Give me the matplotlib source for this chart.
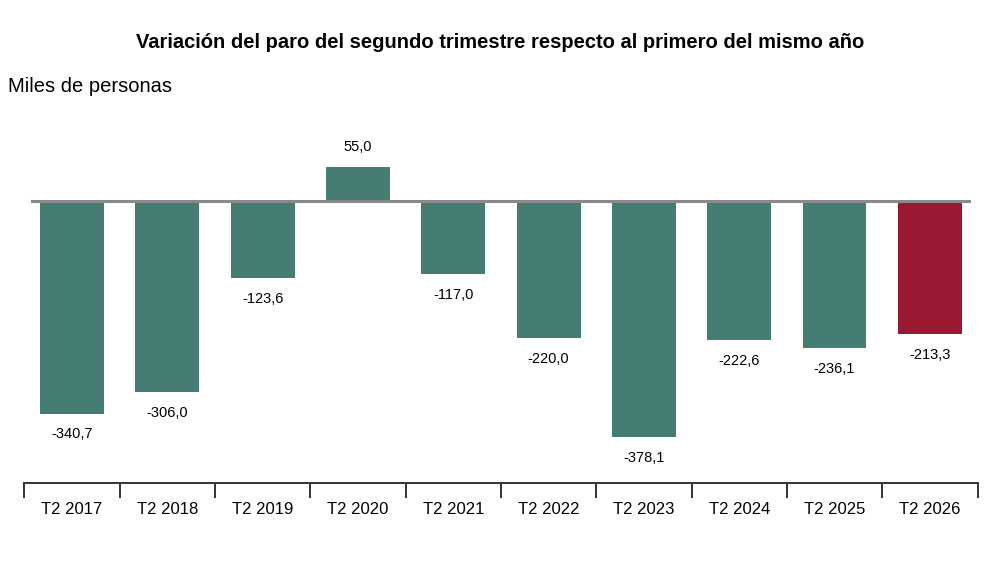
import matplotlib
matplotlib.use('Agg')
import numpy as np
import matplotlib.pyplot as plt

# datos: variación del paro T2 respecto a T1 (miles de personas)
periodos = ['T2 2017', 'T2 2018', 'T2 2019', 'T2 2020', 'T2 2021',
            'T2 2022', 'T2 2023', 'T2 2024', 'T2 2025', 'T2 2026']
valores = [-340.7, -306.0, -123.6, 55.0, -117.0,
           -220.0, -378.1, -222.6, -236.1, -213.3]

verde = '#457C73'
rojo = '#9A1932'
colores = [verde] * (len(valores) - 1) + [rojo]

plt.rcParams['font.family'] = ['Liberation Sans', 'DejaVu Sans']

fig = plt.figure(figsize=(10, 5.63), dpi=100)
ax = fig.add_axes([0.0244, 1 - 483 / 563, 0.9531, 353 / 563])

x = np.arange(len(valores))
ax.bar(x, valores, width=0.67, color=colores, zorder=2)
ax.plot([-0.42, 9.41], [0, 0], color='#8a8a8a', lw=2.2, zorder=3)

for xi, v in zip(x, valores):
    txt = f'{v:.1f}'.replace('.', ',')
    if v >= 0:
        ax.annotate(txt, (xi, v), xytext=(0, 9), textcoords='offset points',
                    ha='center', va='bottom', fontsize=10.5)
    else:
        ax.annotate(txt, (xi, v), xytext=(0, -10), textcoords='offset points',
                    ha='center', va='top', fontsize=10.5)

ax.set_xlim(-0.5, len(valores) - 0.5)
ax.set_ylim(-452, 113.7)

for s in ['top', 'right', 'left']:
    ax.spines[s].set_visible(False)
ax.spines['bottom'].set_color('#333333')
ax.spines['bottom'].set_linewidth(1.4)
ax.set_yticks([])

ax.set_xticks(np.arange(-0.5, len(valores)), minor=False)
ax.set_xticklabels([])
ax.tick_params(axis='x', which='major', length=11, width=1.4, color='#333333',
               direction='out')
ax.set_xticks(x, minor=True)
ax.set_xticklabels(periodos, minor=True, fontsize=12)
ax.tick_params(axis='x', which='minor', length=0, pad=14)

fig.text(0.5, 1 - 42 / 563, 'Variación del paro del segundo trimestre respecto al primero del mismo año',
         ha='center', va='center', fontsize=14.5, fontweight='bold')
fig.text(0.008, 1 - 86 / 563, 'Miles de personas', ha='left', va='center', fontsize=14.5)

fig.savefig('out.png', dpi=100)
